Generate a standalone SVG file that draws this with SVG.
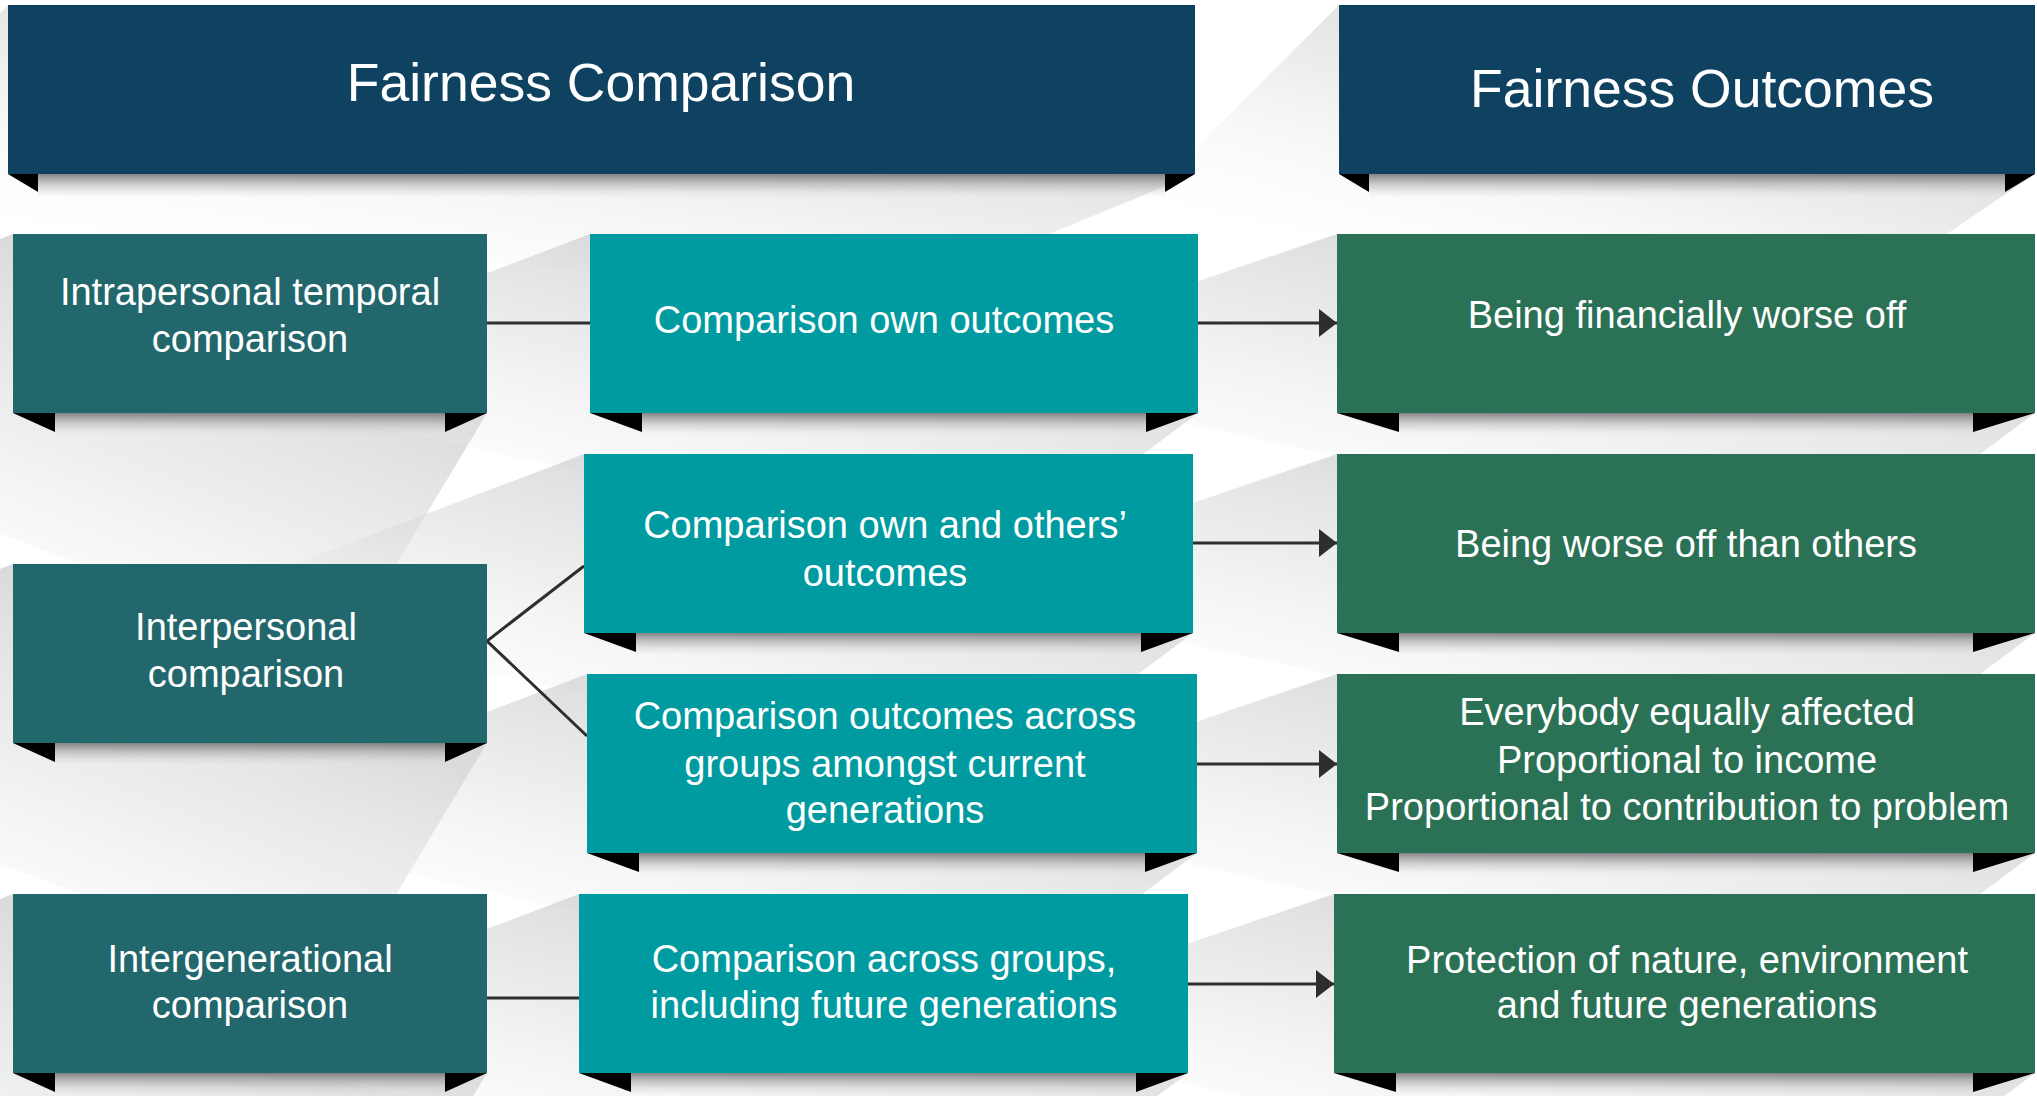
<svg xmlns="http://www.w3.org/2000/svg" width="2037" height="1096" viewBox="0 0 2037 1096">
<defs>
<style>
.hdr{fill:#0f4261}
.lb{fill:#22676c}
.mb{fill:#009ba0}
.rb{fill:#2b7155}
.fold{fill:#000}
.band{fill:url(#band)}
.sh{fill:url(#sh)}
.t{font-family:"Liberation Sans",Arial,sans-serif;fill:#fff;text-anchor:middle;font-size:38px}
.th{font-size:53.5px}
.conn{stroke:#2e2e2e;stroke-width:3;fill:none}
</style>
<linearGradient id="sh" x1="0.85" y1="0.1" x2="0.2" y2="0.9">
<stop offset="0" stop-color="#c2c4c5" stop-opacity="0.85"/>
<stop offset="0.5" stop-color="#d9dadb" stop-opacity="0.45"/>
<stop offset="1" stop-color="#ffffff" stop-opacity="0"/>
</linearGradient>
<linearGradient id="band" x1="0" y1="0" x2="0" y2="1">
<stop offset="0" stop-color="#6e7071" stop-opacity="0.85"/>
<stop offset="1" stop-color="#d0d0d0" stop-opacity="0"/>
</linearGradient>
<marker id="ah" viewBox="0 0 18 28" markerWidth="18" markerHeight="28" refX="18" refY="14" orient="auto" markerUnits="userSpaceOnUse">
<path d="M0,0 L18,14 L0,28 Z" fill="#2e2e2e"/>
</marker>
</defs>
<rect width="2037" height="1096" fill="#ffffff"/>
<g id="shadows">
<polygon class="sh" points="8,5 -192,205 895,297 1195,174"/>
<polygon class="sh" points="1339,5 1139,205 1835,310 2035,174"/>
<polygon class="sh" points="13,234 -387,384 337,663 487,413"/>
<polygon class="sh" points="13,564 -387,714 337,993 487,743"/>
<polygon class="sh" points="13,894 -387,1044 337,1323 487,1073"/>
<polygon class="sh" points="590,234 190,386 998,563 1198,413"/>
<polygon class="sh" points="584,454 184,606 993,783 1193,633"/>
<polygon class="sh" points="587,674 187,826 997,1003 1197,853"/>
<polygon class="sh" points="579,894 179,1046 988,1223 1188,1073"/>
<polygon class="sh" points="1337,234 937,370 1835,563 2035,413"/>
<polygon class="sh" points="1337,454 937,590 1835,783 2035,633"/>
<polygon class="sh" points="1337,674 937,810 1835,1003 2035,853"/>
<polygon class="sh" points="1334,894 934,1030 1835,1223 2035,1073"/>
</g>
<g id="connectors">
<line class="conn" x1="487" y1="323" x2="590" y2="323"/>
<polyline class="conn" points="584,566 487,641 587,736"/>
<line class="conn" x1="487" y1="998" x2="579" y2="998"/>
<line class="conn" x1="1198" y1="323" x2="1337" y2="323" marker-end="url(#ah)"/>
<line class="conn" x1="1193" y1="543" x2="1337" y2="543" marker-end="url(#ah)"/>
<line class="conn" x1="1197" y1="764" x2="1337" y2="764" marker-end="url(#ah)"/>
<line class="conn" x1="1188" y1="984" x2="1334" y2="984" marker-end="url(#ah)"/>
</g>
<g id="header-comparison">
<rect class="band" x="38" y="174" width="1127" height="24"/>
<rect class="hdr" x="8" y="5" width="1187" height="169"/>
<polygon class="fold" points="8,174 38,174 38,192"/>
<polygon class="fold" points="1195,174 1165,174 1165,192"/>
<text class="t th" x="601" y="101">Fairness Comparison</text>
</g>
<g id="header-outcomes">
<rect class="band" x="1369" y="174" width="636" height="24"/>
<rect class="hdr" x="1339" y="5" width="696" height="169"/>
<polygon class="fold" points="1339,174 1369,174 1369,192"/>
<polygon class="fold" points="2035,174 2005,174 2005,192"/>
<text class="t th" x="1702" y="107">Fairness Outcomes</text>
</g>
<g id="intrapersonal">
<rect class="band" x="55" y="413" width="390" height="22"/>
<rect class="lb" x="13" y="234" width="474" height="179"/>
<polygon class="fold" points="13,413 55,413 55,432"/>
<polygon class="fold" points="487,413 445,413 445,432"/>
<text class="t" x="250" y="305">Intrapersonal temporal</text>
<text class="t" x="250" y="352">comparison</text>
</g>
<g id="interpersonal">
<rect class="band" x="55" y="743" width="390" height="22"/>
<rect class="lb" x="13" y="564" width="474" height="179"/>
<polygon class="fold" points="13,743 55,743 55,762"/>
<polygon class="fold" points="487,743 445,743 445,762"/>
<text class="t" x="246" y="640">Interpersonal</text>
<text class="t" x="246" y="687">comparison</text>
</g>
<g id="intergenerational">
<rect class="band" x="55" y="1073" width="390" height="22"/>
<rect class="lb" x="13" y="894" width="474" height="179"/>
<polygon class="fold" points="13,1073 55,1073 55,1092"/>
<polygon class="fold" points="487,1073 445,1073 445,1092"/>
<text class="t" x="250" y="972">Intergenerational</text>
<text class="t" x="250" y="1018">comparison</text>
</g>
<g id="own-outcomes">
<rect class="band" x="642" y="413" width="504" height="22"/>
<rect class="mb" x="590" y="234" width="608" height="179"/>
<polygon class="fold" points="590,413 642,413 642,432"/>
<polygon class="fold" points="1198,413 1146,413 1146,432"/>
<text class="t" x="884" y="333">Comparison own outcomes</text>
</g>
<g id="own-others">
<rect class="band" x="636" y="633" width="505" height="22"/>
<rect class="mb" x="584" y="454" width="609" height="179"/>
<polygon class="fold" points="584,633 636,633 636,652"/>
<polygon class="fold" points="1193,633 1141,633 1141,652"/>
<text class="t" x="885" y="538">Comparison own and others’</text>
<text class="t" x="885" y="586">outcomes</text>
</g>
<g id="across-current">
<rect class="band" x="639" y="853" width="506" height="22"/>
<rect class="mb" x="587" y="674" width="610" height="179"/>
<polygon class="fold" points="587,853 639,853 639,872"/>
<polygon class="fold" points="1197,853 1145,853 1145,872"/>
<text class="t" x="885" y="729">Comparison outcomes across</text>
<text class="t" x="885" y="777">groups amongst current</text>
<text class="t" x="885" y="823">generations</text>
</g>
<g id="across-future">
<rect class="band" x="631" y="1073" width="505" height="22"/>
<rect class="mb" x="579" y="894" width="609" height="179"/>
<polygon class="fold" points="579,1073 631,1073 631,1092"/>
<polygon class="fold" points="1188,1073 1136,1073 1136,1092"/>
<text class="t" x="884" y="972">Comparison across groups,</text>
<text class="t" x="884" y="1018">including future generations</text>
</g>
<g id="financially-worse">
<rect class="band" x="1399" y="413" width="574" height="22"/>
<rect class="rb" x="1337" y="234" width="698" height="179"/>
<polygon class="fold" points="1337,413 1399,413 1399,432"/>
<polygon class="fold" points="2035,413 1973,413 1973,432"/>
<text class="t" x="1687" y="328">Being financially worse off</text>
</g>
<g id="worse-than-others">
<rect class="band" x="1399" y="633" width="574" height="22"/>
<rect class="rb" x="1337" y="454" width="698" height="179"/>
<polygon class="fold" points="1337,633 1399,633 1399,652"/>
<polygon class="fold" points="2035,633 1973,633 1973,652"/>
<text class="t" x="1686" y="557">Being worse off than others</text>
</g>
<g id="distribution">
<rect class="band" x="1399" y="853" width="574" height="22"/>
<rect class="rb" x="1337" y="674" width="698" height="179"/>
<polygon class="fold" points="1337,853 1399,853 1399,872"/>
<polygon class="fold" points="2035,853 1973,853 1973,872"/>
<text class="t" x="1687" y="725">Everybody equally affected</text>
<text class="t" x="1687" y="773">Proportional to income</text>
<text class="t" x="1687" y="820">Proportional to contribution to problem</text>
</g>
<g id="protection">
<rect class="band" x="1396" y="1073" width="577" height="22"/>
<rect class="rb" x="1334" y="894" width="701" height="179"/>
<polygon class="fold" points="1334,1073 1396,1073 1396,1092"/>
<polygon class="fold" points="2035,1073 1973,1073 1973,1092"/>
<text class="t" x="1687" y="973">Protection of nature, environment</text>
<text class="t" x="1687" y="1018">and future generations</text>
</g>
</svg>
